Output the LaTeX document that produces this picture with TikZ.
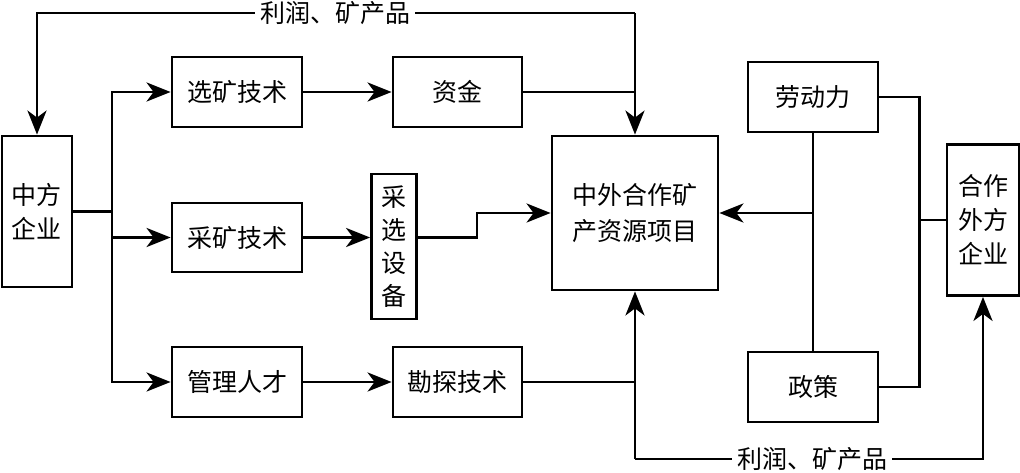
\documentclass[tikz,border=0pt]{standalone}
\usepackage{fontspec}
\setmainfont{Noto Sans CJK SC}
\usetikzlibrary{arrows.meta}
\tikzset{
  box/.style={draw, line width=2.8pt, inner sep=0pt, align=center, font=\fontsize{25}{34}\selectfont},
  conn/.style={draw, line width=2.8pt},
  arr/.style={draw, line width=2.8pt, -{Stealth[length=24pt,width=19pt,inset=7pt]}},
  lbl/.style={fill=white, inner sep=5pt, font=\fontsize{25}{30}\selectfont}
}
\begin{document}
\begin{tikzpicture}[x=1pt,y=-1pt]
\useasboundingbox (0,0) rectangle (1020,472);
\node[box, minimum width=70pt, minimum height=151pt] (zf) at (37,211.5) {中方\\企业};
\node[box, minimum width=130pt, minimum height=70pt] (xk) at (237,92) {选矿技术};
\node[box, minimum width=129pt, minimum height=70pt] (zj) at (457.5,92) {资金};
\node[box, minimum width=130pt, minimum height=69pt] (ck) at (237,237.5) {采矿技术};
\node[box, minimum width=45pt, minimum height=145pt, font=\fontsize{25}{33}\selectfont] (sb) at (394,246.5) {采\\选\\设\\备};
\node[box, minimum width=130pt, minimum height=70pt] (gl) at (237,382) {管理人才};
\node[box, minimum width=129pt, minimum height=70pt] (kt) at (457.5,382) {勘探技术};
\node[box, minimum width=166pt, minimum height=154pt, font=\fontsize{25}{36}\selectfont] (pj) at (635,213) {中外合作矿\\产资源项目};
\node[box, minimum width=130pt, minimum height=70pt] (ld) at (813,97) {劳动力};
\node[box, minimum width=130pt, minimum height=70pt] (zc) at (813,387) {政策};
\node[box, minimum width=72pt, minimum height=151pt] (hz) at (983,220) {合作\\外方\\企业};
% top feedback
\coordinate (t1) at (635,13);
\draw[arr] (t1) -| (zf.north);
\draw[arr] (t1) -- (pj.north);
\node[lbl] (lt) at (335,13) {利润、矿产品};
\draw[conn] (zj.east) -- (zj.east -| pj.north);
% left branches
\coordinate (b) at (112,211.5);
\draw[conn] (zf.east) -- (b);
\draw[arr] (b) |- (xk.west);
\draw[arr] (b) |- (ck.west);
\draw[arr] (b) |- (gl.west);
\draw[arr] (xk.east) -- (zj.west);
\draw[arr] (ck.east) -- (ck.east -| sb.west);
\draw[arr] (gl.east) -- (kt.west);
\coordinate (j) at (477,237.5);
\draw[arr] (sb.east |- ck.east) -- (j) |- (pj.west);
% bottom
\coordinate (bl) at (635,459);
\draw[conn] (kt.east) -- (kt.east -| pj.south);
\draw[arr] (bl) -- (pj.south);
\draw[arr] (bl) -| (hz.south);
\node[lbl] (lb) at (812,459) {利润、矿产品};
% right
\draw[conn] (ld.south) -- (zc.north);
\draw[arr] (ld.south |- pj.east) -- (pj.east);
\draw[conn] (ld.east) -- ++(40,0) coordinate (r1) |- (zc.east);
\draw[conn] (r1 |- hz.west) -- (hz.west);
\end{tikzpicture}
\end{document}
